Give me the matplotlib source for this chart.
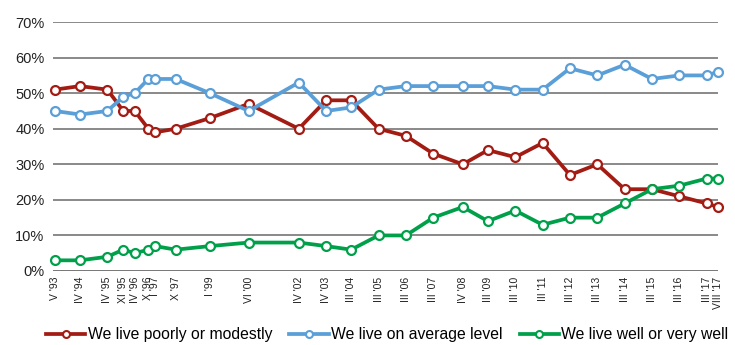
import matplotlib
matplotlib.use("Agg")
import matplotlib.pyplot as plt
from matplotlib.lines import Line2D

plt.rcParams['font.family'] = ['Liberation Sans', 'DejaVu Sans']

# Survey waves: (year, month) and their axis labels
waves = [(1993, 5), (1994, 4), (1995, 4), (1995, 11), (1996, 4), (1996, 10),
         (1997, 1), (1997, 10), (1999, 1), (2000, 6), (2002, 4), (2003, 4),
         (2004, 3), (2005, 3), (2006, 3), (2007, 3), (2008, 4), (2009, 3),
         (2010, 3), (2011, 3), (2012, 3), (2013, 3), (2014, 3), (2015, 3),
         (2016, 3), (2017, 3), (2017, 8)]
wave_labels = ["V '93", "IV '94", "IV '95", "XI '95", "IV '96", "X '96",
               "I '97", "X '97", "I '99", "VI '00", "IV '02", "IV '03",
               "III '04", "III '05", "III '06", "III '07", "IV '08", "III '09",
               "III '10", "III '11", "III '12", "III '13", "III '14", "III '15",
               "III '16", "III '17", "VIII '17"]

poorly = [51, 52, 51, 45, 45, 40, 39, 40, 43, 47, 40, 48, 48, 40, 38, 33, 30,
          34, 32, 36, 27, 30, 23, 23, 21, 19, 18]
average = [45, 44, 45, 49, 50, 54, 54, 54, 50, 45, 53, 45, 46, 51, 52, 52, 52,
           52, 51, 51, 57, 55, 58, 54, 55, 55, 56]
well = [3, 3, 4, 6, 5, 6, 7, 6, 7, 8, 8, 7, 6, 10, 10, 15, 18, 14, 17, 13, 15,
        15, 19, 23, 24, 26, 26]

series_names = ["We live poorly or modestly", "We live on average level",
                "We live well or very well"]
colors = ["#A31C14", "#5B9FD8", "#00A04B"]

x = [y + (m - 1) / 12 for y, m in waves]

fig = plt.figure(figsize=(7.35, 3.45), dpi=100)
ax = fig.add_axes([0.072, 0.2145, 0.905, 0.7215])

yticks = list(range(0, 71, 10))
for t in yticks:
    ax.axhline(t, color="#6a6a6a", lw=2.0 if t == 0 else 1.1, zorder=1)

for vals, c in zip([poorly, average, well], colors):
    ax.plot(x, vals, color=c, lw=2.7, marker="o", ms=6.4,
            mfc="white", mec=c, mew=1.6, clip_on=False, zorder=3)

ax.set_ylim(0, 70)
ax.set_xlim(1993.26, 2017.55)
ax.set_yticks(yticks)
ax.set_yticklabels([f"{t}%" for t in yticks], fontsize=10.5, color="#222222")
ax.set_xticks(x)
ax.set_xticklabels(wave_labels, rotation=90, fontsize=7.5, color="#222222")
ax.tick_params(axis="both", length=0)
ax.tick_params(axis="y", pad=6)
ax.tick_params(axis="x", pad=4)
for s in ax.spines.values():
    s.set_visible(False)

handles = [Line2D([0], [0], color=c, lw=2.7, marker="o", ms=5, mfc="white",
                  mec=c, mew=1.5) for c in colors]
fig.legend(handles, series_names, loc="center", bbox_to_anchor=(0.527, 0.03),
           ncol=3, frameon=False, fontsize=11.3, handlelength=2.5,
           handletextpad=0.15, columnspacing=1.1, borderpad=0)

fig.savefig("out.png", dpi=100)
